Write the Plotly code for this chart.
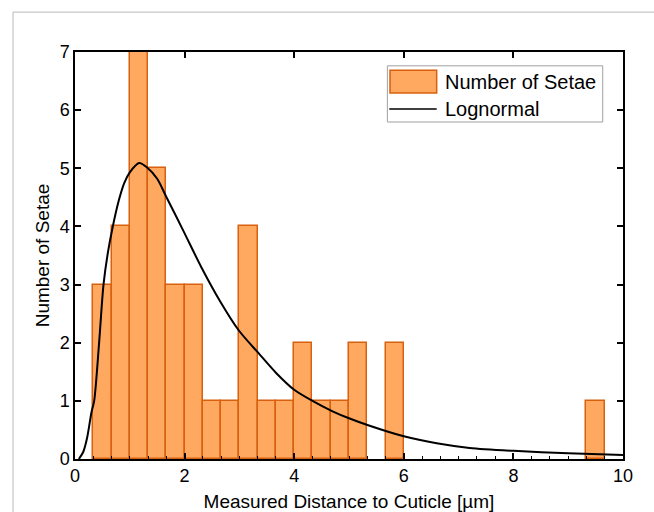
import plotly.graph_objects as go

# Histogram bins (centers, width 1/3 µm) and counts
bin_centers = [0.5, 0.8333, 1.1667, 1.5, 1.8333, 2.1667, 2.5, 2.8333, 3.1667,
               3.5, 3.8333, 4.1667, 4.5, 4.8333, 5.1667, 5.8333, 9.5]
counts = [3, 4, 7, 5, 3, 3, 1, 1, 4, 1, 1, 2, 1, 1, 2, 2, 1]
bin_width = 1 / 3

# Lognormal fit curve
curve_x = [0.07, 0.15, 0.22, 0.30, 0.35, 0.44, 0.52, 0.60, 0.69, 0.80, 0.90, 1.00,
           1.17, 1.32, 1.50, 1.66, 1.98, 2.31, 2.65, 2.99, 3.35, 3.67, 4.00, 4.35,
           4.70, 5.00, 5.35, 6.00, 6.60, 7.20, 8.00, 9.00, 10.0]
curve_y = [0.0, 0.12, 0.36, 0.80, 1.0, 2.0, 3.0, 3.55, 4.0, 4.45, 4.75, 4.93,
           5.09, 5.01, 4.82, 4.52, 3.92, 3.29, 2.71, 2.21, 1.82, 1.48, 1.19, 0.99,
           0.82, 0.70, 0.58, 0.39, 0.27, 0.19, 0.14, 0.10, 0.07]

x_ticks = [0, 2, 4, 6, 8, 10]
y_ticks = [0, 1, 2, 3, 4, 5, 6, 7]

FONT = "Arial, Liberation Sans, sans-serif"
FILL = "rgb(255,168,96)"
EDGE = "rgb(216,96,14)"

fig = go.Figure()
fig.add_trace(go.Bar(
    x=bin_centers, y=counts, width=bin_width,
    marker=dict(color=FILL, line=dict(color=EDGE, width=1.5)),
    name="Number of Setae", showlegend=False,
))
fig.add_trace(go.Scatter(
    x=curve_x, y=curve_y, mode="lines",
    line=dict(color="black", width=2, shape="spline", smoothing=0.8),
    name="Lognormal", showlegend=False,
))
# invisible trace to activate the top axis
fig.add_trace(go.Scatter(x=[0, 10], y=[0, 0], xaxis="x2", mode="lines",
                         line=dict(width=0), hoverinfo="skip", showlegend=False))

fig.update_layout(
    width=654, height=512,
    margin=dict(l=75, r=31, t=52, b=53),
    paper_bgcolor="white", plot_bgcolor="white",
    font=dict(family=FONT, size=18, color="black"),
    bargap=0,
    xaxis=dict(
        range=[0, 10], tickvals=x_ticks, ticks="inside", ticklen=6, tickwidth=1.5,
        tickcolor="black", showline=True, linecolor="black", linewidth=1.5,
        mirror=True, showgrid=False, zeroline=False, automargin=False,
        tickfont=dict(size=18),
        minor=dict(dtick=1 / 3, tick0=0, ticks="inside", ticklen=3.5,
                   tickwidth=1.2, tickcolor="black", showgrid=False),
        title=dict(text="Measured Distance to Cuticle [µm]", font=dict(size=19), standoff=14),
    ),
    xaxis2=dict(
        range=[0, 10], overlaying="x", side="top", tickvals=x_ticks, ticks="inside",
        ticklen=6, tickwidth=1.5, tickcolor="black", showticklabels=False,
        showline=False, showgrid=False, zeroline=False, automargin=False,
    ),
    yaxis=dict(
        range=[0, 7], tickvals=y_ticks, ticks="inside", ticklen=6, tickwidth=1.5,
        tickcolor="black", showline=True, linecolor="black", linewidth=1.5,
        mirror="ticks", showgrid=False, zeroline=False, automargin=False,
        tickfont=dict(size=18),
        title=dict(text="Number of Setae", font=dict(size=19), standoff=5),
    ),
    shapes=[
        # outer light-grey panel frame
        dict(type="rect", xref="paper", yref="paper", x0=-0.1131, x1=1.3, y0=-0.4, y1=1.098,
             line=dict(color="rgb(185,185,185)", width=1), fillcolor="rgba(0,0,0,0)", layer="below"),
        # legend box
        dict(type="rect", xref="paper", yref="paper", x0=0.570, x1=0.963, y0=0.828, y1=0.966,
             line=dict(color="rgb(160,160,160)", width=1), fillcolor="white"),
        dict(type="rect", xref="paper", yref="paper", x0=0.5748, x1=0.660, y0=0.899, y1=0.955,
             line=dict(color=EDGE, width=1.5), fillcolor=FILL),
        dict(type="line", xref="paper", yref="paper", x0=0.5735, x1=0.660, y0=0.860, y1=0.860,
             line=dict(color="black", width=1.5)),
    ],
    annotations=[
        dict(text="Number of Setae", xref="paper", yref="paper", x=0.6715, y=0.927,
             xanchor="left", yanchor="middle", showarrow=False, font=dict(size=20)),
        dict(text="Lognormal", xref="paper", yref="paper", x=0.6715, y=0.860,
             xanchor="left", yanchor="middle", showarrow=False, font=dict(size=20)),
    ],
)

fig.write_html("out.html")
